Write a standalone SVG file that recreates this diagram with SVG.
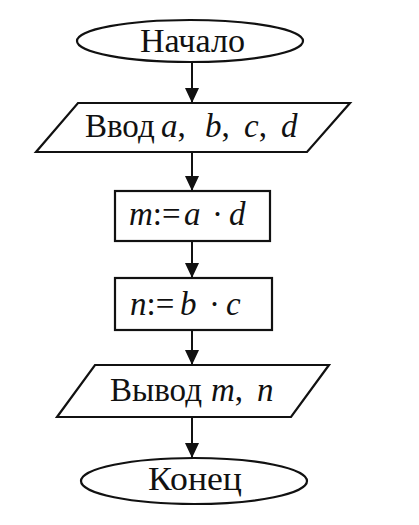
<svg xmlns="http://www.w3.org/2000/svg" width="419" height="525" viewBox="0 0 419 525">
  <style>
    .shape { fill: none; stroke: #111; stroke-width: 2.2; }
    .conn { stroke: #111; stroke-width: 2; fill: none; }
    .t { font-family: "Liberation Serif", "Times New Roman", serif; font-size: 33px; fill: #111; }
    .i { font-style: italic; }
  </style>
  <defs>
    <marker id="arr" markerUnits="userSpaceOnUse" markerWidth="16" markerHeight="16" refX="15" refY="7" orient="auto">
      <path d="M0,0 L15,7 L0,14 Z" fill="#111"/>
    </marker>
  </defs>
  <rect width="419" height="525" fill="#fff"/>

  <g id="connectors">
    <line class="conn" x1="192" y1="62" x2="192" y2="103" marker-end="url(#arr)"/>
    <line class="conn" x1="192" y1="152" x2="192" y2="191" marker-end="url(#arr)"/>
    <line class="conn" x1="192" y1="241" x2="192" y2="278" marker-end="url(#arr)"/>
    <line class="conn" x1="192" y1="330" x2="192" y2="365" marker-end="url(#arr)"/>
    <line class="conn" x1="192" y1="417" x2="192" y2="458" marker-end="url(#arr)"/>
  </g>

  <g id="start">
    <ellipse class="shape" cx="190" cy="41" rx="113" ry="21"/>
    <text class="t" x="140" y="52" textLength="105" lengthAdjust="spacingAndGlyphs">Начало</text>
  </g>

  <g id="input">
    <polygon class="shape" points="78,103 350,103 307,152 36,152"/>
    <text class="t" y="137"><tspan x="85">Ввод</tspan><tspan x="161" class="i">a</tspan>,<tspan x="205" class="i">b</tspan>,<tspan x="244" class="i">c</tspan>,<tspan x="281" class="i">d</tspan></text>
  </g>

  <g id="assign-m">
    <rect class="shape" x="115" y="191" width="155" height="50"/>
    <text class="t" y="225"><tspan x="129" class="i">m</tspan>:=<tspan x="184" class="i">a</tspan><tspan x="212">·</tspan><tspan x="229" class="i">d</tspan></text>
  </g>

  <g id="assign-n">
    <rect class="shape" x="115" y="278" width="157" height="52"/>
    <text class="t" y="315"><tspan x="130" class="i">n</tspan>:=<tspan x="180" class="i">b</tspan><tspan x="209">·</tspan><tspan x="226" class="i">c</tspan></text>
  </g>

  <g id="output">
    <polygon class="shape" points="95,365 329,365 291,417 57,417"/>
    <text class="t" y="401"><tspan x="110" textLength="92" lengthAdjust="spacingAndGlyphs">Вывод</tspan><tspan x="211" class="i">m</tspan>,<tspan x="257" class="i">n</tspan></text>
  </g>

  <g id="end">
    <ellipse class="shape" cx="194" cy="481" rx="113" ry="23"/>
    <text class="t" x="148" y="490" textLength="94" lengthAdjust="spacingAndGlyphs">Конец</text>
  </g>
</svg>
